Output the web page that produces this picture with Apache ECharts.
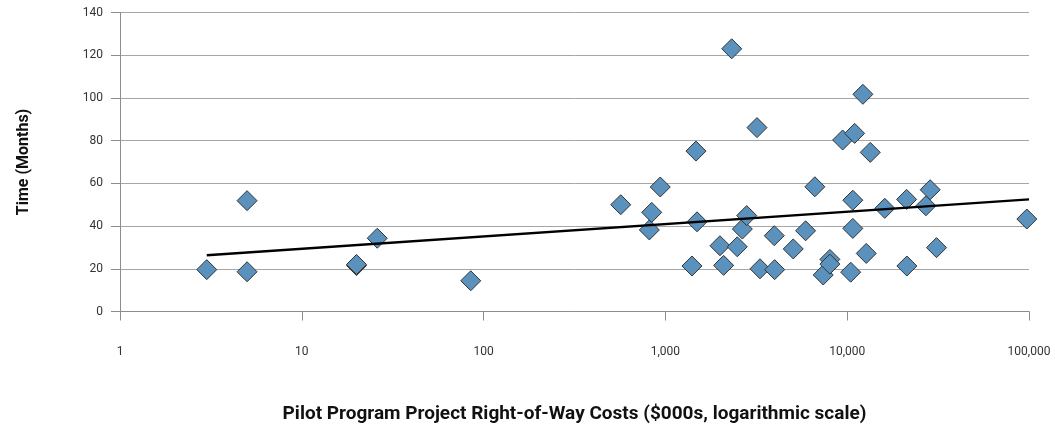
<!DOCTYPE html>
<html>
<head>
<meta charset="utf-8">
<script src="https://cdn.jsdelivr.net/npm/echarts@6/dist/echarts.min.js"></script>
<style>html,body{margin:0;padding:0;background:#fff}#c{width:1055px;height:433px}</style>
</head>
<body>
<div id="c"></div>
<script>
// Right-of-way costs ($000s)
var costs = [3, 5, 5, 20, 20, 26, 85,
  568, 816, 841, 937, 1400, 1473, 1493, 1996, 2090, 2316, 2485, 2650, 2800, 3190, 3313, 3970, 3990, 5050, 5905, 6640,
  7380, 8030, 8030, 9440, 10450, 10740, 10740, 10990, 12200, 12730, 13390, 16100, 21220, 21290, 27100, 28600, 31000, 97300];
// Time (months)
var months = [19.6, 51.9, 18.6, 21.5, 22, 34.3, 14.4,
  50.0, 38.2, 46.4, 58.3, 21.3, 75.1, 42.0, 30.8, 21.6, 123.0, 30.3, 38.6, 44.9, 86.1, 20.0, 35.5, 19.6, 29.3, 37.8, 58.4,
  17.1, 24.4, 22.2, 80.3, 18.4, 52.1, 38.9, 83.4, 101.7, 27.2, 74.5, 48.3, 52.5, 21.3, 49.5, 57.0, 29.9, 43.3];
// Logarithmic trend line end points
var trendX = [3, 100000];
var trendY = [26.3, 52.5];
var yTicks = [0, 20, 40, 60, 80, 100, 120, 140];

var pts = costs.map(function (c, i) { return [c, months[i]]; });
var trend = trendX.map(function (x, i) { return [x, trendY[i]]; });

var chart = echarts.init(document.getElementById('c'));
var lblFont = '"Liberation Sans Narrow", "Roboto", sans-serif';
chart.setOption({
  animation: false,
  grid: { left: 120, right: 26, top: 12.5, bottom: 121.5 },
  xAxis: {
    type: 'log', logBase: 10, min: 1, max: 100000,
    name: 'Pilot Program Project Right-of-Way Costs ($000s, logarithmic scale)',
    nameLocation: 'middle', nameGap: 93,
    nameTextStyle: { fontFamily: lblFont, fontWeight: 'bold', fontSize: 19, color: '#111' },
    axisLine: { show: true, onZero: false, lineStyle: { color: '#8c8c8c', width: 1 } },
    axisTick: { show: true, inside: false, length: 9, lineStyle: { color: '#8c8c8c' } },
    minorTick: { show: false },
    splitLine: { show: false },
    axisLabel: { margin: 34, fontFamily: lblFont, fontSize: 12, color: '#333',
      formatter: function (v) { return Number(v).toLocaleString('en-US'); } }
  },
  yAxis: {
    type: 'value', min: 0, max: 140, interval: 20,
    name: 'Time (Months)', nameLocation: 'middle', nameGap: 88, nameRotate: 90,
    nameTextStyle: { fontFamily: lblFont, fontWeight: 'bold', fontSize: 16, color: '#111' },
    axisLine: { show: true, lineStyle: { color: '#8c8c8c', width: 1 } },
    axisTick: { show: true, length: 9, lineStyle: { color: '#8c8c8c' } },
    splitLine: { show: true, lineStyle: { color: '#a6a6a6', width: 1 } },
    axisLabel: { margin: 17, fontFamily: lblFont, fontSize: 12, color: '#333' }
  },
  series: [
    {
      type: 'scatter', data: pts, symbol: 'diamond', symbolSize: [20, 20],
      itemStyle: { color: '#5a92bd', borderColor: '#333', borderWidth: 1, opacity: 1 },
      z: 2
    },
    {
      type: 'line', data: trend, symbol: 'none', silent: true,
      lineStyle: { color: '#000', width: 2.5 }, z: 3
    }
  ]
});
</script>
</body>
</html>
